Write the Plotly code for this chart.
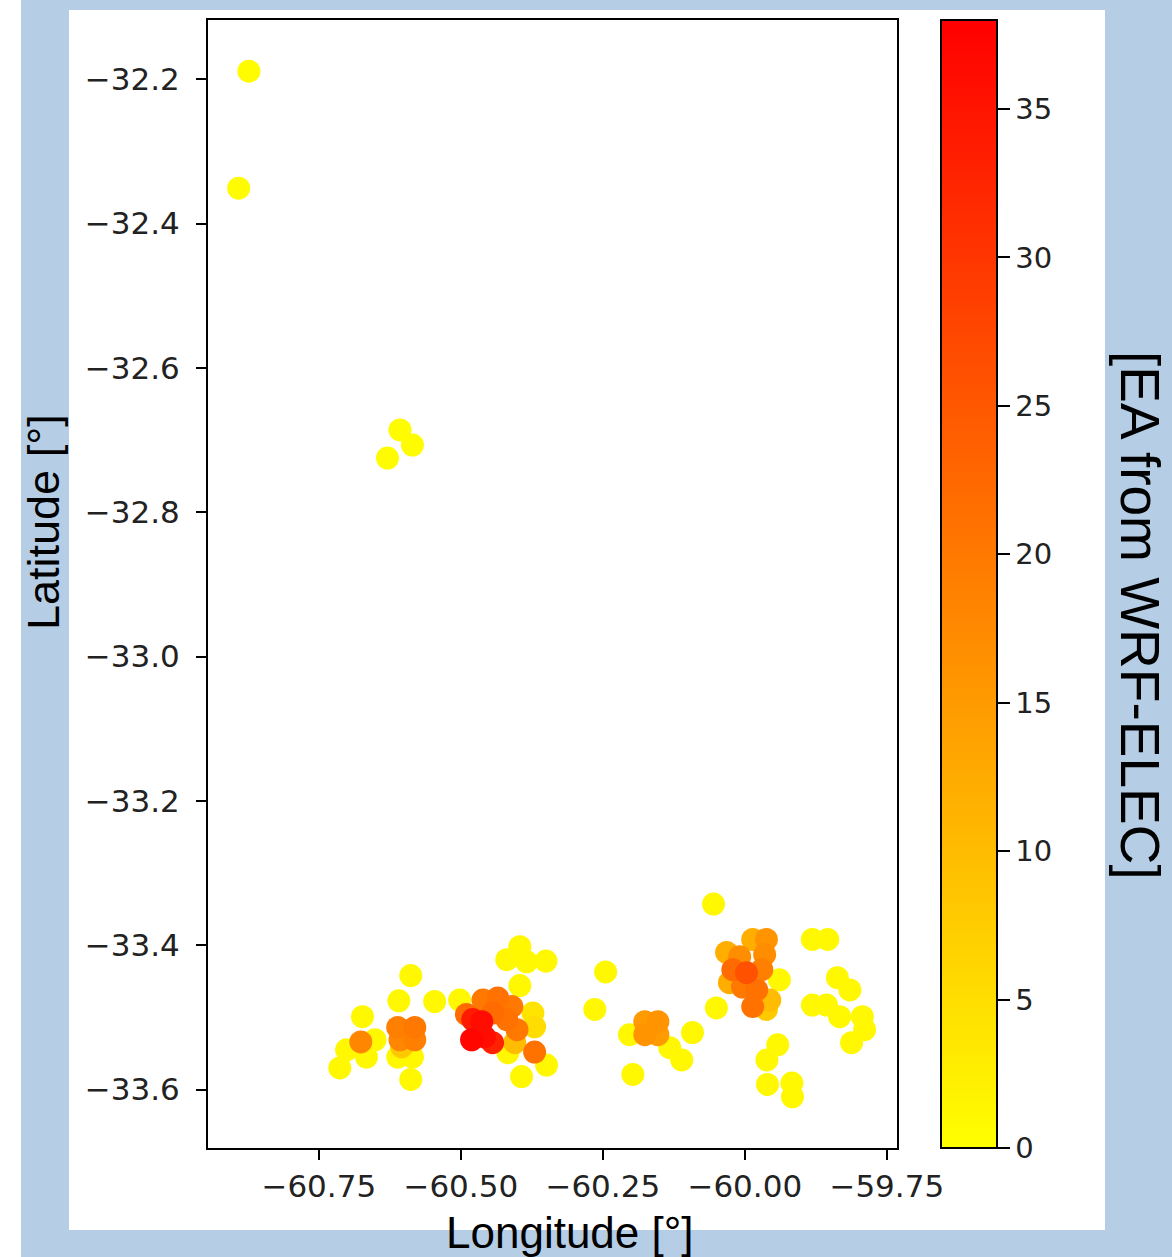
import plotly.graph_objects as go

# Longitude / latitude / EA value for each point
lon = [
    -60.873, -60.891, -60.607, -60.585, -60.629,
    -60.588, -60.609, -60.546, -60.502, -60.673, -60.651, -60.701, -60.713,
    -60.611, -60.585, -60.588, -60.666,
    -60.676, -60.611, -60.581, -60.607, -60.581, -60.604,
    -60.396, -60.419, -60.384, -60.350, -60.396,
    -60.461, -60.435, -60.410, -60.444, -60.419, -60.401, -60.490,
    -60.373, -60.370,
    -60.479, -60.463, -60.481, -60.458, -60.444, -60.405, -60.370,
    -60.417, -60.349, -60.393,
    -60.245, -60.264, -60.176, -60.153, -60.176, -60.153, -60.203, -60.092,
    -60.132, -60.111, -60.197,
    -60.055, -59.986, -59.962, -60.032, -60.009, -59.965, -60.021, -59.997,
    -59.970, -60.027, -60.004, -59.979, -59.956, -59.986, -59.962, -59.939, -60.050,
    -59.942, -59.961, -59.960, -59.917, -59.916,
    -59.881, -59.854, -59.837, -59.815, -59.881, -59.856, -59.833, -59.793,
    -59.789, -59.812,
]
lat = [
    -32.189, -32.351, -32.686, -32.707, -32.725,
    -33.442, -33.477, -33.478, -33.476, -33.499, -33.531, -33.545, -33.570,
    -33.555, -33.555, -33.586, -33.555,
    -33.534, -33.514, -33.514, -33.531, -33.531, -33.541,
    -33.402, -33.420, -33.423, -33.422, -33.456,
    -33.476, -33.473, -33.485, -33.494, -33.503, -33.517, -33.496,
    -33.494, -33.513,
    -33.503, -33.506, -33.531, -33.527, -33.535, -33.535, -33.548,
    -33.549, -33.566, -33.582,
    -33.437, -33.489, -33.506, -33.506, -33.524, -33.524, -33.524, -33.521,
    -33.542, -33.559, -33.579,
    -33.343, -33.392, -33.392, -33.410, -33.416, -33.413, -33.434, -33.438,
    -33.434, -33.452, -33.458, -33.462, -33.476, -33.485, -33.489, -33.448, -33.487,
    -33.538, -33.559, -33.593, -33.591, -33.610,
    -33.392, -33.392, -33.445, -33.462, -33.483, -33.483, -33.499, -33.499,
    -33.517, -33.535,
]
ea = [
    0.5, 0.5, 0.5, 0.5, 0.5,
    1, 1, 1, 1, 1, 1, 1, 1,
    1, 1, 1, 1,
    18, 19, 20, 18, 19, 8,
    1, 1, 1, 1, 1,
    20, 21, 20, 22, 21, 20, 22,
    4, 5,
    34, 36, 37, 36, 33, 10, 21,
    1, 1, 1,
    1, 1, 15, 16, 16, 15, 1, 1,
    1, 1, 1,
    1, 12, 16, 12, 17, 17, 22, 26,
    19, 12, 20, 21, 10, 21, 8, 1, 1,
    1, 1, 1, 1, 1,
    1, 1, 1, 1, 1, 1, 1, 1,
    1, 1,
]

x_ticks = [-60.75, -60.50, -60.25, -60.00, -59.75]
x_tick_text = ["\u221260.75", "\u221260.50", "\u221260.25", "\u221260.00", "\u221259.75"]
y_ticks = [-32.2, -32.4, -32.6, -32.8, -33.0, -33.2, -33.4, -33.6]
y_tick_text = ["\u221232.2", "\u221232.4", "\u221232.6", "\u221232.8", "\u221233.0",
               "\u221233.2", "\u221233.4", "\u221233.6"]
cb_ticks = [0, 5, 10, 15, 20, 25, 30, 35]
cb_tick_text = ["0", "5", "10", "15", "20", "25", "30", "35"]

# draw low values first so high values end on top
order = sorted(range(len(ea)), key=lambda i: ea[i])
lon_s = [lon[i] for i in order]
lat_s = [lat[i] for i in order]
ea_s = [ea[i] for i in order]

W, H = 1172, 1257
L, R, T, B = 208, 897, 20, 1148
pw, ph = R - L, B - T


def px(xp):
    return (xp - L) / pw


def py(yp):
    return (B - yp) / ph


BLUE = "#b5cee5"
TICKFONT = dict(family="DejaVu Sans", size=31, color="#222")

fig = go.Figure()
fig.add_trace(go.Scatter(
    x=lon_s, y=lat_s, mode="markers",
    marker=dict(
        size=23, color=ea_s, cmin=0, cmax=38,
        colorscale=[[0, "rgb(255,255,0)"], [1, "rgb(255,0,0)"]],
        line=dict(width=0),
        showscale=True,
        colorbar=dict(
            x=px(941), xanchor="left", xpad=0, xref="paper",
            y=0.5, yanchor="middle", ypad=0, len=1, lenmode="fraction",
            thickness=56, thicknessmode="pixels",
            outlinewidth=2, outlinecolor="black",
            tickvals=cb_ticks, ticktext=cb_tick_text,
            ticks="outside", ticklen=12, tickwidth=2, tickcolor="black",
            tickfont=dict(family="DejaVu Sans", size=29, color="#222"),
        ),
    ),
    hoverinfo="skip", showlegend=False,
))

fig.update_layout(
    width=W, height=H,
    margin=dict(l=L, r=W - R, t=T, b=H - B, autoexpand=False),
    paper_bgcolor=BLUE, plot_bgcolor="white",
    xaxis=dict(
        range=[-60.945, -59.732], tickvals=x_ticks, ticktext=x_tick_text,
        showgrid=False, zeroline=False, showline=True, linecolor="black",
        linewidth=2, mirror=True, ticks="outside", ticklen=10, tickwidth=2,
        tickcolor="black", tickfont=TICKFONT, ticklabelstandoff=0,
    ),
    yaxis=dict(
        range=[-33.681, -32.118], tickvals=y_ticks, ticktext=y_tick_text,
        showgrid=False, zeroline=False, showline=True, linecolor="black",
        linewidth=2, mirror=True, ticks="outside", ticklen=10, tickwidth=2,
        tickcolor="black", tickfont=TICKFONT, ticklabelstandoff=10,
    ),
    shapes=[
        dict(type="rect", xref="paper", yref="paper", layer="below",
             x0=px(69), x1=px(1105), y0=py(1230), y1=py(10),
             fillcolor="white", line=dict(width=0)),
        dict(type="rect", xref="paper", yref="paper", layer="below",
             x0=px(0), x1=px(21), y0=py(1257), y1=py(0),
             fillcolor="white", line=dict(width=0)),
    ],
    annotations=[
        dict(text="Latitude [°]", xref="paper", yref="paper",
             x=px(43), y=py(522), showarrow=False, textangle=-90,
             xanchor="center", yanchor="middle",
             font=dict(family="Liberation Sans", size=45, color="black")),
        dict(text="Longitude [°]", xref="paper", yref="paper",
             x=px(570), y=py(1232), showarrow=False,
             xanchor="center", yanchor="middle",
             font=dict(family="Liberation Sans", size=44, color="black")),
        dict(text="[EA from WRF-ELEC]", xref="paper", yref="paper",
             x=px(1140), y=py(615), showarrow=False, textangle=90,
             xanchor="center", yanchor="middle",
             font=dict(family="Liberation Sans", size=55, color="black")),
    ],
)

fig.write_html(
    "out.html",
    config={"displayModeBar": False},
    post_script="document.body.style.margin='0';"
                "document.body.style.padding='0';"
                "document.documentElement.style.overflow='hidden';",
)
